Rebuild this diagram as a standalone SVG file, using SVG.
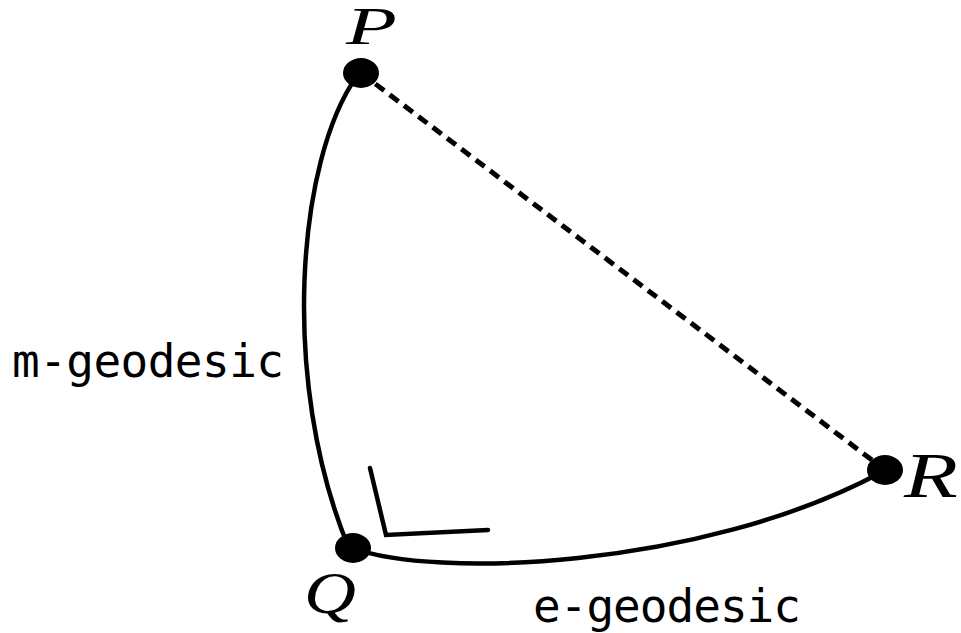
<svg xmlns="http://www.w3.org/2000/svg" width="961" height="633" viewBox="0 0 961 633">
<style>
.curve{fill:none;stroke:#000;stroke-width:4.5;stroke-linecap:round}
.dash{fill:none;stroke:#000;stroke-width:5;stroke-dasharray:11 7}
.dot{fill:#000}
.lab{font-family:"Liberation Serif","DejaVu Serif",serif;font-style:italic;fill:#000}
.txt{font-family:"DejaVu Sans Mono","Liberation Mono",monospace;font-size:46px;fill:#000}
</style>
<rect width="961" height="633" fill="#fff"/>
<g id="connectors">
<path class="dash" d="M 361 73 L 885 470"/>
<path class="curve" d="M 357 76 C 297 160, 280 380, 348 546"/>
<path class="curve" d="M 353 548 C 430 578, 700 570, 882 472"/>
<path class="curve" d="M 370 468 L 386 535 L 488 530" stroke-linecap="butt"/>
</g>
<g id="P"><ellipse class="dot" cx="361" cy="73" rx="18" ry="15"/><text class="lab" font-size="52" transform="translate(346 44) scale(1.6 1)">P</text></g>
<g id="Q"><ellipse class="dot" cx="353" cy="548" rx="18" ry="15"/><text class="lab" font-size="60" transform="translate(304 613) scale(1.2 1)">Q</text></g>
<g id="R"><ellipse class="dot" cx="885" cy="470" rx="18" ry="15"/><text class="lab" font-size="63" transform="translate(904 497) scale(1.4 1)">R</text></g>
<g id="m-label"><text class="txt" x="12" y="377" textLength="272">m-geodesic</text></g>
<g id="e-label"><text class="txt" x="533" y="622" textLength="268">e-geodesic</text></g>
</svg>
